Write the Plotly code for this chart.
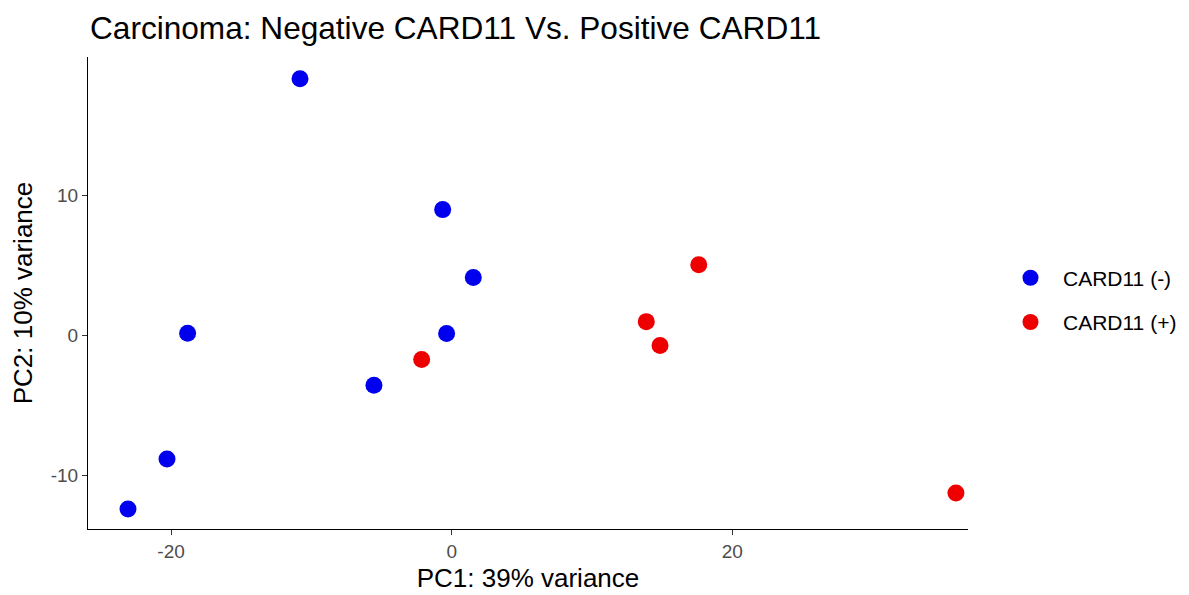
import plotly.graph_objects as go

# PCA scores for carcinoma samples, split by CARD11 status
neg_pc1 = [-10.81, -0.64, 1.54, -18.82, -0.36, -5.54, -20.29, -23.07]
neg_pc2 = [18.34, 9.00, 4.16, 0.17, 0.16, -3.54, -8.81, -12.38]

pos_pc1 = [-2.14, 13.87, 14.85, 17.61, 35.94]
pos_pc2 = [-1.70, 1.00, -0.71, 5.07, -11.24]

group_names = ["CARD11 (-)", "CARD11 (+)"]
group_colors = ["#0000EE", "#EE0000"]

x_ticks = [-20, 0, 20]
y_ticks = [-10, 0, 10]

font_family = "Liberation Sans, Arial, sans-serif"

fig = go.Figure()
for name, color, xs, ys in zip(group_names, group_colors,
                               [neg_pc1, pos_pc1], [neg_pc2, pos_pc2]):
    fig.add_trace(go.Scatter(
        x=xs, y=ys, mode="markers", name=name, legendgroup=name,
        marker=dict(color=color, size=17, line=dict(width=0)),
    ))

axis_common = dict(
    showgrid=False, zeroline=False, showline=True, linecolor="black",
    linewidth=1.2, ticks="outside", ticklen=5, tickcolor="#333333",
    tickwidth=1.1, automargin=False,
    tickfont=dict(family=font_family, size=19, color="#4D4D4D"),
)

fig.update_layout(
    width=1189, height=595,
    paper_bgcolor="white", plot_bgcolor="white",
    margin=dict(l=88, r=221, t=57, b=66),
    font=dict(family=font_family, color="black"),
    title=dict(text="Carcinoma: Negative CARD11 Vs. Positive CARD11",
               x=90 / 1189, xref="container", xanchor="left",
               y=0.953, yanchor="middle",
               font=dict(size=31.6, color="black")),
    xaxis=dict(range=[-25.92, 36.8], tickvals=x_ticks,
               ticktext=[str(v) for v in x_ticks],
               title=dict(text="PC1: 39% variance", standoff=7,
                          font=dict(size=26, color="black")),
               **axis_common),
    yaxis=dict(range=[-13.81, 19.9], tickvals=y_ticks,
               ticktext=[str(v) for v in y_ticks],
               title=dict(text="PC2: 10% variance", standoff=10,
                          font=dict(size=26, color="black")),
               **axis_common),
    legend=dict(xref="container", x=998 / 1189, xanchor="left",
                y=0.485, yanchor="middle",
                traceorder="grouped", tracegroupgap=14, itemwidth=55,
                font=dict(family=font_family, size=21, color="black"),
                bgcolor="rgba(0,0,0,0)"),
    showlegend=True,
)

fig.write_html("out.html")
